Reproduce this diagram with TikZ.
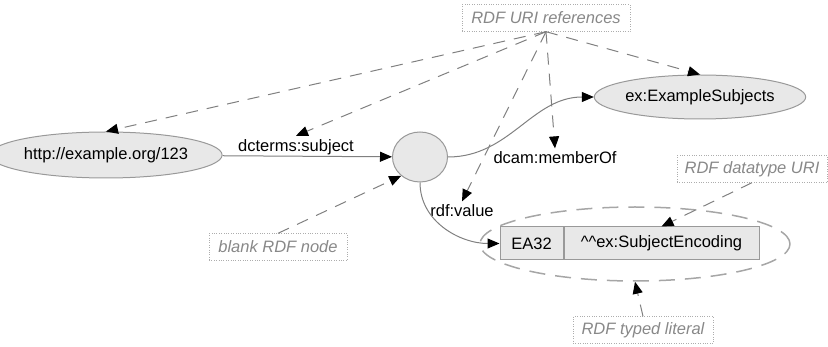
\documentclass[tikz,border=0pt]{standalone}
\usepackage{fontspec}
\setmainfont{Liberation Sans}
\usetikzlibrary{arrows.meta,positioning,shapes.geometric}

\definecolor{nodefill}{HTML}{E8E8E8}
\definecolor{nodeline}{HTML}{999999}
\definecolor{notegray}{HTML}{888888}

\begin{document}
\begin{tikzpicture}[x=1pt,y=-1pt,>={Triangle[length=12pt,width=10pt,color=black]},
    font=\fontsize{16.5}{19}\selectfont,
    res/.style={ellipse,draw=nodeline,fill=nodefill,line width=1pt,inner sep=0pt},
    cell/.style={rectangle,draw=nodeline,fill=nodefill,line width=1pt,minimum height=33pt,inner sep=0pt},
    note/.style={rectangle,draw=nodeline!80,dotted,text=notegray,font=\fontsize{16.5}{19}\selectfont\itshape,inner sep=0pt,minimum height=27pt},
    rel/.style={->,draw=gray,line width=1pt},
    hint/.style={->,draw=gray,line width=1pt,dash pattern=on 12pt off 9pt}]
  \useasboundingbox (0,0) rectangle (828,347);
  \node[note,minimum width=168pt] (uri) at (546,18) {RDF URI references};
  \node[res,minimum width=198pt,minimum height=46pt] (http) at (106,155) {http://example.org/123};
  \node[res,minimum width=55pt,minimum height=50pt] (blank) at (420,157) {};
  \node[res,minimum width=186pt,minimum height=44pt] (ex) at (700,97) {ex:ExampleSubjects};
  \node[cell,minimum width=63pt] (val) at (531.5,243.5) {EA32};
  \node[cell,minimum width=195pt,right=0pt of val] (enc) {\textasciicircum\textasciicircum ex:SubjectEncoding};
  \node[ellipse,draw=gray!70,line width=1.5pt,dash pattern=on 16pt off 10pt,
    minimum width=310pt,minimum height=74pt] (lit) at (635,244) {};
  \node[note,minimum width=150pt] (dtype) at (752,169) {RDF datatype URI};
  \node[note,minimum width=140pt] (typed) at (643,330) {RDF typed literal};
  \node[note,minimum width=138pt] (bnote) at (278,247) {blank RDF node};
  \node (dct) at (296,147) {dcterms:subject};
  \node (mof) at (555,158) {dcam:memberOf};
  \node (rdfv) at (462,211) {rdf:value};
  % triples
  \draw[rel] (http) -- (blank);
  \draw[rel] (blank) to[out=0,in=180] (ex);
  \draw[rel] (blank) to[out=-90,in=180] (val);
  % notes
  \draw[hint] (uri.south) -- (http.north);
  \draw[hint] (uri.south) -- (dct.north);
  \draw[hint] (uri.south) -- (ex.north);
  \draw[hint] (uri.south) -- (mof.north);
  \draw[hint] (uri.south) -- (rdfv.north);
  \draw[hint] (bnote.north) -- (blank.225);
  \draw[hint] (dtype.south) -- (enc.north);
  \draw[hint] (typed.north) -- (lit.south);
\end{tikzpicture}
\end{document}
